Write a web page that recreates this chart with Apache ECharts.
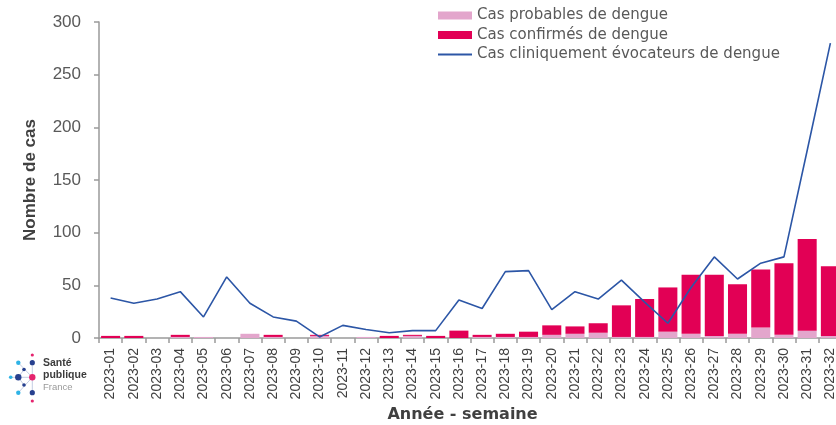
<!DOCTYPE html>
<html><head><meta charset="utf-8">
<script src="https://cdn.jsdelivr.net/npm/echarts@6/dist/echarts.min.js"></script>
<style>html,body{margin:0;padding:0;background:#fff}#c{width:836px;height:425px}</style>
</head><body><div id="c"></div>
<script>
const categories = ['2023-01','2023-02','2023-03','2023-04','2023-05','2023-06','2023-07','2023-08','2023-09','2023-10','2023-11','2023-12','2023-13','2023-14','2023-15','2023-16','2023-17','2023-18','2023-19','2023-20','2023-21','2023-22','2023-23','2023-24','2023-25','2023-26','2023-27','2023-28','2023-29','2023-30','2023-31','2023-32'];
const probables = [0,0,0,1,1,0,4,1,0,2,0,1,0,2,0,0,1,1,1,3,4,5,1,1,6,4,2,4,10,3,7,2];
const confirmes = [2,2,0,2,0,0,0,2,0,1,0,0,2,1,2,7,2,3,5,9,7,9,30,36,42,56,58,47,55,68,87,66];
const cliniques = [38,33,37,44,20,58,33,20,16,1,12,8,5,7,7,36,28,63,64,27,44,37,55,34,14,48,77,56,71,77,178,280];
const yTicks = {min:0, max:300, interval:50};

const chart = echarts.init(document.getElementById('c'), null, {renderer:'canvas'});
const axisGray = '#9a9a9a';
const link = (x1,y1,x2,y2) => ({type:'line', silent:true, shape:{x1,y1,x2,y2}, style:{stroke:'#c3cde3', lineWidth:1}});
const dot = (cx,cy,r,fill) => ({type:'circle', silent:true, shape:{cx,cy,r}, style:{fill}});
chart.setOption({
  backgroundColor:'#fff',
  animation:false,
  grid:{left:99, right:-6, top:22, bottom:87, outerBoundsMode:'none', containLabel:false},
  legend:{
    orient:'vertical', left:437, top:8, padding:0, itemGap:4.5, itemWidth:34, itemHeight:8,
    textStyle:{fontFamily:'DejaVu Sans', fontSize:15, color:'#595959'},
    data:[{name:'Cas probables de dengue', icon:'rect'},{name:'Cas confirmés de dengue', icon:'rect'},
          {name:'Cas cliniquement évocateurs de dengue', itemStyle:{opacity:0}}]
  },
  xAxis:{
    type:'category', data:categories, boundaryGap:true,
    name:'Année - semaine', nameLocation:'middle', nameGap:66,
    nameTextStyle:{fontFamily:'DejaVu Sans', fontWeight:'bold', fontSize:16, color:'#404040', padding:[0,16,0,0]},
    axisLine:{lineStyle:{color:axisGray, width:1.5}},
    axisTick:{show:true, alignWithLabel:false, length:5, lineStyle:{color:axisGray, width:1.5}},
    axisLabel:{rotate:90, interval:0, margin:10, fontFamily:'Liberation Sans', fontSize:14, color:'#404040'}
  },
  yAxis:{
    type:'value', min:yTicks.min, max:yTicks.max, interval:yTicks.interval,
    name:'Nombre de cas', nameLocation:'middle', nameGap:60, nameRotate:90,
    nameTextStyle:{fontFamily:'Liberation Sans', fontWeight:'bold', fontSize:17, color:'#404040'},
    axisLine:{show:true, lineStyle:{color:axisGray, width:1.5}},
    axisTick:{show:true, length:5, lineStyle:{color:axisGray, width:1.5}},
    axisLabel:{margin:18, fontFamily:'Liberation Sans', fontSize:17, color:'#595959'},
    splitLine:{show:false}
  },
  series:[
    {name:'Cas probables de dengue', type:'bar', stack:'a', data:probables, barCategoryGap:'18%',
     itemStyle:{color:'#E3A6CC'}},
    {name:'Cas confirmés de dengue', type:'bar', stack:'a', data:confirmes,
     itemStyle:{color:'#E20055'}},
    {name:'Cas cliniquement évocateurs de dengue', type:'line', data:cliniques, symbol:'none', z:5,
     lineStyle:{color:'#2C56A6', width:1.6}, itemStyle:{color:'#2C56A6'}}
  ],
  graphic:[
    link(18.3,362.7,32.3,377.3), link(32.3,362.7,32.3,392.7), link(10.7,377.3,32.3,377.3),
    link(18.3,392.7,32.3,377.3), link(24,369.5,18.3,377.3), link(24,385,18.3,377.3),
    dot(32.3,355,1.6,'#e5246e'), dot(32.3,362.7,2.6,'#27408f'), dot(18.3,362.7,2.2,'#2fb3e6'),
    dot(24,369.5,1.8,'#27408f'), dot(10.7,377.3,1.8,'#2fb3e6'), dot(18.3,377.3,3.2,'#27408f'),
    dot(32.3,377.3,3.2,'#e5246e'), dot(24,385,1.8,'#27408f'), dot(18.3,392.7,2.2,'#2fb3e6'),
    dot(32.3,392.7,2.6,'#27408f'), dot(32.3,401,1.6,'#e5246e'),
    {type:'text', silent:true, x:43, y:358, style:{text:'Santé', font:'bold 10.5px "Liberation Sans"', fill:'#3c3c3c'}},
    {type:'text', silent:true, x:43, y:370, style:{text:'publique', font:'bold 10.5px "Liberation Sans"', fill:'#3c3c3c'}},
    {type:'text', silent:true, x:43, y:382, style:{text:'France', font:'9.5px "Liberation Sans"', fill:'#9a9a9a'}}
  ]
});
</script></body></html>
